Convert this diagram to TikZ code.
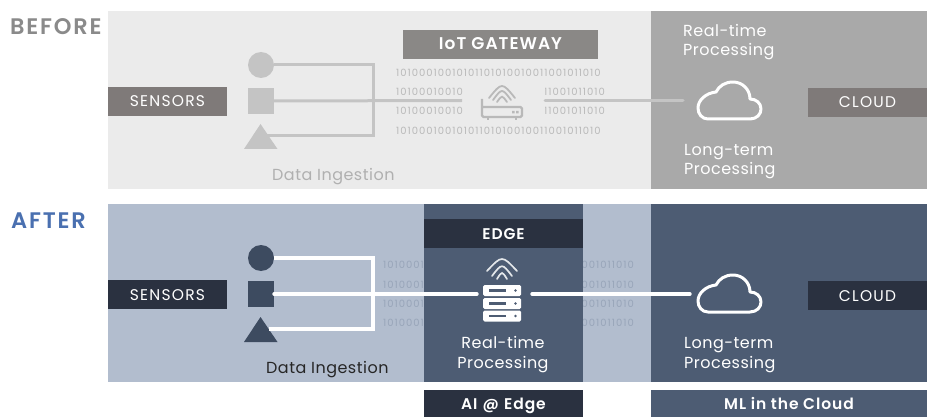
\documentclass[tikz,border=0pt]{standalone}
\usepackage{fontspec}
\setmainfont{Poppins}[LetterSpace=3]
\newfontfamily\binfont{Poppins}[LetterSpace=10]
\newfontfamily\barfont{Poppins}[LetterSpace=8]
\newfontfamily\medfont{Poppins SemiBold}[LetterSpace=6]
\newfontfamily\headfont{Poppins SemiBold}[LetterSpace=8]
\definecolor{bgA}{HTML}{EBEBEB}
\definecolor{panA}{HTML}{A9A9A9}
\definecolor{bgB}{HTML}{B2BDCE}
\definecolor{panB}{HTML}{4D5C73}
\definecolor{darkB}{HTML}{2A3140}
\definecolor{barA}{HTML}{7F7A79}
\definecolor{gateA}{HTML}{8A8886}
\definecolor{shapeA}{HTML}{C4C4C4}
\definecolor{shapeB}{HTML}{3D4B60}
\definecolor{binA}{HTML}{B9B9B9}
\definecolor{binB}{HTML}{98A5B9}
\definecolor{txtA}{HTML}{B0B0B0}
\definecolor{headA}{HTML}{8A8A8A}
\definecolor{headB}{HTML}{4A70B0}
\tikzset{
  x=1pt,y=-1pt,
  bar/.style={anchor=north west,inner sep=0pt,outer sep=0pt,text=white,text height=11pt,text depth=0pt,font=\barfont\fontsize{15.5}{15.5}\selectfont},
  medbar/.style={bar,font=\medfont\fontsize{15.5}{15.5}\selectfont},
  lab/.style={anchor=base west,inner sep=0pt,font=\fontsize{16}{16}\selectfont,text=white},
  bin/.style={inner sep=0pt,font=\binfont\fontsize{10}{10}\selectfont},
  wireA/.style={draw=shapeA,line width=3pt},
  wireB/.style={draw=white,line width=3.4pt},
  cloudline/.style={draw=white,line width=3pt,line join=round},
  pt/.style={inner sep=0pt,outer sep=0pt}
}
\newcommand{\binrow}{10100010010101101010010011001011010}
\newcommand{\cloudshape}{(10,37) -- (52,37) .. controls (59,37) and (63,32) .. (63,27) .. controls (63,21) and (58,17) .. (52,17) .. controls (52,7) and (44,0) .. (35,0) .. controls (27,0) and (21,4) .. (18,10) .. controls (8,11) and (0,18) .. (0,26) .. controls (0,32) and (4,37) .. (10,37) -- cycle}
\begin{document}
\begin{tikzpicture}
\useasboundingbox (0,0) rectangle (932,417);
\fill[white] (0,0) rectangle (932,417);
% panels
\fill[bgA] (108,11) rectangle (651,189);
\fill[panA] (651,11) rectangle (927,189);
\fill[bgB] (108,204) rectangle (651,382);
\fill[panB] (424,204) rectangle (583,382);
\fill[panB] (651,204) rectangle (927,382);
% headings
\node[anchor=west,inner sep=0pt,text=headA,font=\headfont\fontsize{22.5}{22.5}\selectfont] (hb) at (10,27) {BEFORE};
\node[anchor=west,inner sep=0pt,text=headB,font=\headfont\fontsize{22.5}{22.5}\selectfont] (ha) at (11,221) {AFTER};
% bars
\node[bar,fill=barA,minimum width=119pt,minimum height=29pt] (s1) at (108,87) {SENSORS};
\node[bar,fill=darkB,minimum width=119pt,minimum height=29pt] (s2) at (108,280) {SENSORS};
\node[bar,fill=barA,minimum width=119pt,minimum height=29pt] (c1) at (808,88) {CLOUD};
\node[bar,fill=darkB,minimum width=119pt,minimum height=29pt] (c2) at (808,281) {CLOUD};
\node[medbar,fill=gateA,minimum width=195pt,minimum height=29pt,font=\medfont\fontsize{17}{17}\selectfont] (gw) at (403,30) {IoT GATEWAY};
\node[medbar,fill=darkB,minimum width=159pt,minimum height=29pt] (ed) at (424,219) {EDGE};
\node[medbar,fill=darkB,minimum width=159pt,minimum height=27pt] (ai) at (424,390) {AI\,\,@\,\,Edge};
\node[medbar,fill=panB,minimum width=276pt,minimum height=27pt] (ml) at (651,390) {ML in the Cloud};
% binary, before
\foreach \yy in {72.7,130.5} \node[bin,anchor=west,text=binA] at (396,\yy) {\binrow};
\begin{scope}
\clip (390,80) rectangle (462,122);
\foreach \yy in {92,111} \node[bin,anchor=west,text=binA] at (396,\yy) {10100010010};
\end{scope}
\begin{scope}
\clip (545,80) rectangle (620,122);
\foreach \yy in {92,111} \node[bin,anchor=east,text=binA] at (605,\yy) {11001011010};
\end{scope}
% binary, after
\begin{scope}
\clip (375,255) rectangle (424,335);
\foreach \yy in {265,285,304,323} \node[bin,anchor=west,text=binB] at (383,\yy) {10100010};
\end{scope}
\begin{scope}
\clip (583,255) rectangle (640,335);
\foreach \yy in {265,285,304,323} \node[bin,anchor=east,text=binB] at (634,\yy) {001011010};
\end{scope}
% shapes, before
\node[pt,circle,fill=shapeA,minimum size=26pt] (ca) at (261,65) {};
\node[pt,rectangle,fill=shapeA,minimum size=26pt] (sa) at (261,101) {};
\fill[shapeA] (260.5,124) -- (277.5,149) -- (244,149) -- cycle;
\coordinate (ta) at (267,136);
\coordinate (ja) at (373,100.5);
\coordinate (ga) at (462,100.5);
\coordinate (gb) at (545,100.5);
\coordinate (cla) at (683,100.5);
\draw[wireA] (ca.east) -- (ca.east -| ja) -- (ta -| ja) -- (ta);
\draw[wireA] (sa.east) -- (ga);
\draw[wireA,line cap=round] (gb) -- (cla);
% router icon
\begin{scope}[shift={(481,87)}]
\draw[draw=binA,line width=2.2pt,rounded corners=1.5pt] (1,12) -- (1,30) -- (41,30) -- (41,20) -- (1,20);
\draw[draw=binA,line width=2pt] (7,31) -- (7,33) (35,31) -- (35,33);
\fill[binA] (31,24) rectangle (33.5,26.5) (35,24) rectangle (37.5,26.5);
\draw[draw=binA,line width=1.8pt,line cap=round] (8,11) .. controls (21,-5) .. (34,11);
\draw[draw=binA,line width=1.8pt,line cap=round] (12,13) .. controls (21,1) .. (30,13);
\draw[draw=binA,line width=1.8pt,line cap=round] (16,15) .. controls (21,8) .. (26,15);
\end{scope}
% shapes, after
\node[pt,circle,fill=shapeB,minimum size=26pt] (cb) at (261,258) {};
\node[pt,rectangle,fill=shapeB,minimum size=26pt] (sb) at (261,294) {};
\fill[shapeB] (260.5,317) -- (277.5,342) -- (244,342) -- cycle;
\coordinate (tb) at (269,329);
\coordinate (jb) at (373,294);
\coordinate (ea) at (477,294);
\coordinate (eb) at (532,294);
\coordinate (clb) at (690,294);
\draw[wireB] (cb.east) -- (cb.east -| jb) -- (tb -| jb) -- (tb);
\draw[wireB,line cap=round] (sb.east) -- (ea);
\draw[wireB,line cap=round] (eb) -- (clb);
% server icon
\begin{scope}[shift={(483,263)}]
\foreach \yy in {22,35,47.5} {
  \fill[white,rounded corners=1.5pt] (0,\yy) rectangle (38,\yy+11);
  \fill[panB] (6,\yy+4.2) rectangle (23,\yy+6.6);
  \fill[panB] (32.5,\yy+5.5) circle[radius=1.4];
}
\draw[draw=white!85!panB,line width=1.7pt,line cap=round] (4,8) .. controls (19,-8) .. (34,8);
\draw[draw=white!85!panB,line width=1.7pt,line cap=round] (9,13) .. controls (19,0) .. (29,13);
\draw[draw=white!85!panB,line width=1.7pt,line cap=round] (14,16) .. controls (19,8) .. (24,16);
\end{scope}
% clouds
\begin{scope}[shift={(698,82)}]
\draw[cloudline] \cloudshape;
\end{scope}
\begin{scope}[shift={(698,275)}]
\draw[cloudline] \cloudshape;
\end{scope}
% labels
\node[lab] (r1) at (683,37) {Real-time};
\node[lab] (r2) at (683,56) {Processing};
\node[lab] (l1) at (684,155.5) {Long-term};
\node[lab] (l2) at (684,175) {Processing};
\node[lab] (l3) at (684,348) {Long-term};
\node[lab] (l4) at (684,368) {Processing};
\node[lab,anchor=base] (r3) at (503,348) {Real-time};
\node[lab,anchor=base] (r4) at (503,368) {Processing};
\node[lab,text=txtA] (d1) at (272,180) {Data Ingestion};
\node[lab,text=black!85] (d2) at (266,373.5) {Data Ingestion};
\end{tikzpicture}
\end{document}
